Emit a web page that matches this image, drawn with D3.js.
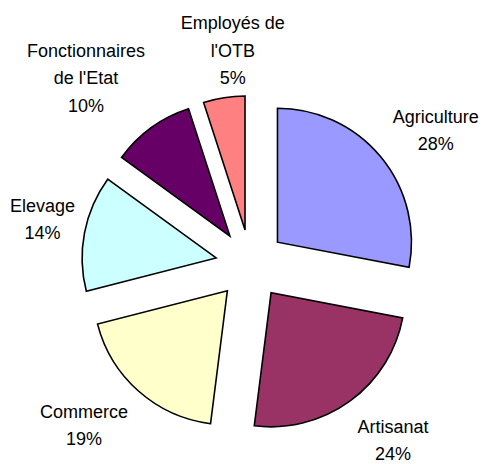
<!DOCTYPE html>
<html>
<head>
<meta charset="utf-8">
<script src="https://cdn.jsdelivr.net/npm/d3@7"></script>
<style>
html,body{margin:0;padding:0;background:#fff;}
svg{display:block;}
text{font-family:"Liberation Sans",Arial,sans-serif;font-size:18px;fill:#000;}
</style>
</head>
<body>
<div id="chart"></div>
<script>
const categories = ["Agriculture", "Artisanat", "Commerce", "Elevage", "Fonctionnaires de l'Etat", "Employés de l'OTB"];
const labelLines = [["Agriculture"], ["Artisanat"], ["Commerce"], ["Elevage"], ["Fonctionnaires", "de l'Etat"], ["Employés de", "l'OTB"]];
const values = [28, 24, 19, 14, 10, 5];
const colors = ["#9999FF", "#993366", "#FFFFCC", "#CCFFFF", "#660066", "#FF8080"];
const labelNudge = [[9.5, 11], [8.5, -9], [-15.7, -10.5], [16, -3], [-30.4, -2.5], [18, 11]];

const W = 491, H = 464;
const cx = 250.5, cy = 264.5, R = 134, explode = 35, labelR = 228, lineH = 27.5, capH = 13;

const svg = d3.select("#chart").append("svg").attr("width", W).attr("height", H);
const g = svg.append("g").attr("transform", `translate(${cx},${cy})`);

const total = d3.sum(values);
const pie = d3.pie().sort(null).value(d => d).startAngle(0).endAngle(2 * Math.PI);
const arcs = pie(values);
const arc = d3.arc().innerRadius(0).outerRadius(R);

function dir(a) { return [Math.sin(a), -Math.cos(a)]; }

g.selectAll("path.slice").data(arcs).join("path")
  .attr("class", "slice")
  .attr("d", arc)
  .attr("fill", (d, i) => colors[i])
  .attr("stroke", "#000")
  .attr("stroke-width", 1.6)
  .attr("stroke-linejoin", "miter")
  .attr("transform", d => {
    const m = (d.startAngle + d.endAngle) / 2;
    const [dx, dy] = dir(m);
    return `translate(${dx * explode},${dy * explode})`;
  });

const labels = g.selectAll("text.lbl").data(arcs).join("text")
  .attr("class", "lbl")
  .attr("text-anchor", "middle")
  .each(function(d, i) {
    const m = (d.startAngle + d.endAngle) / 2;
    const [dx, dy] = dir(m);
    const lx = dx * labelR + labelNudge[i][0];
    const ly = dy * labelR + labelNudge[i][1];
    const lines = labelLines[i].concat([Math.round(d.value / total * 100) + "%"]);
    const totalH = capH + (lines.length - 1) * lineH;
    const top = ly - totalH / 2;
    const t = d3.select(this);
    lines.forEach((s, k) => {
      t.append("tspan").attr("x", lx).attr("y", top + capH + k * lineH).text(s);
    });
  });
</script>
</body>
</html>
